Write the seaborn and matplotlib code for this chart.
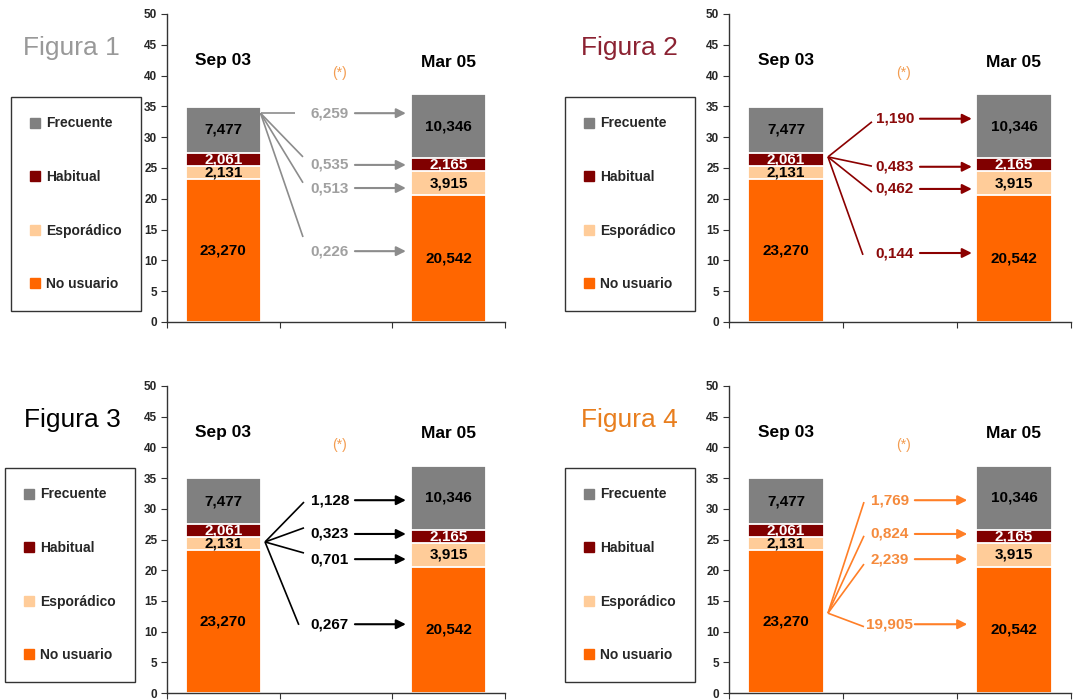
import numpy as np
import pandas as pd
import matplotlib
matplotlib.use("Agg")
import matplotlib.pyplot as plt
from matplotlib.lines import Line2D
import seaborn as sns

# ---------------- data ----------------
periodos = ["Sep 03", "Mar 05"]
tipos = ["No usuario", "Esporádico", "Habitual", "Frecuente"]
sep03 = [23.270, 2.131, 2.061, 7.477]
mar05 = [20.542, 3.915, 2.165, 10.346]

# flows from one Sep 03 group to each Mar 05 group (order: tipos)
flujo_fig1 = [0.226, 0.513, 0.535, 6.259]    # desde Frecuente
flujo_fig2 = [0.144, 0.462, 0.483, 1.190]    # desde Habitual
flujo_fig3 = [0.267, 0.701, 0.323, 1.128]    # desde Esporádico
flujo_fig4 = [19.905, 2.239, 0.824, 1.769]   # desde No usuario

titulos = ["Figura 1", "Figura 2", "Figura 3", "Figura 4"]
y_ticks = [0, 5, 10, 15, 20, 25, 30, 35, 40, 45, 50]

# ---------------- styles ----------------
sns.set_theme(style="white")
plt.rcParams["font.family"] = ["Liberation Sans", "DejaVu Sans"]

colores = {"No usuario": "#FF6600", "Esporádico": "#FFCC99",
           "Habitual": "#800000", "Frecuente": "#808080"}
color_texto = {"No usuario": "black", "Esporádico": "black",
               "Habitual": "white", "Frecuente": "black"}

orden = ["Sep 03", " ", "Mar 05"]

rows = []
for p, vals in zip(periodos, [sep03, mar05]):
    acc = 0.0
    for t, v in zip(tipos, vals):
        rows.append({"periodo": p, "tipo": t, "valor": v, "base": acc, "acumulado": acc + v})
        acc += v
df = pd.DataFrame(rows)

W, H = 1074, 700

paneles = [
    dict(titulo=titulos[0], tcol="#999999", lcol="#8C8C8C", txtcol="#A0A0A0",
         rect=(167, 14, 338, 308), leg=(11, 97), tit=(23, 48),
         flujo=flujo_fig1, origen=(0.33, 33.9),
         fin_x=[0.707, 0.707, 0.707, 0.636], fin_y=[13.8, 22.6, 26.8, 33.9],
         lab_y=[11.5, 21.75, 25.5, 33.9], lab_x=0.946, ax0=1.168, ax1=1.62),
    dict(titulo=titulos[1], tcol="#8B2232", lcol="#8B0000", txtcol="#8B0A0A",
         rect=(729, 14, 342, 308), leg=(565, 97), tit=(581, 48),
         flujo=flujo_fig2, origen=(0.368, 26.8),
         fin_x=[0.675, 0.754, 0.754, 0.754], fin_y=[10.9, 21.1, 25.3, 32.5],
         lab_y=[11.2, 21.6, 25.2, 33.0], lab_x=0.956, ax0=1.175, ax1=1.63),
    dict(titulo=titulos[2], tcol="black", lcol="black", txtcol="black",
         rect=(167, 386, 338, 307), leg=(5, 468), tit=(24, 420),
         flujo=flujo_fig3, origen=(0.37, 24.6),
         fin_x=[0.67, 0.716, 0.716, 0.716], fin_y=[11.1, 22.8, 26.9, 31.1],
         lab_y=[11.2, 21.8, 25.9, 31.4], lab_x=0.946, ax0=1.168, ax1=1.62),
    dict(titulo=titulos[3], tcol="#E87E1E", lcol="#FF7F27", txtcol="#F58A3C",
         rect=(729, 386, 342, 307), leg=(565, 468), tit=(581, 420),
         flujo=flujo_fig4, origen=(0.368, 13.0),
         fin_x=[0.684, 0.684, 0.684, 0.684], fin_y=[10.8, 21.0, 25.6, 31.1],
         lab_y=[11.2, 21.8, 25.9, 31.4], lab_x=0.91, ax0=1.13, ax1=1.59),
]

fig = plt.figure(figsize=(W / 100, H / 100), dpi=100)

def fmt(v):
    return f"{v:.3f}".replace(".", ",")

for P in paneles:
    x0, y0, w, h = P["rect"]
    ax = fig.add_axes([x0 / W, 1 - (y0 + h) / H, w / W, h / H])

    # stacked bars, drawn from top layer down
    for t in reversed(tipos):
        sub = df[df["tipo"] == t]
        sns.barplot(data=sub, x="periodo", y="acumulado", order=orden,
                    color=colores[t], width=0.66, edgecolor="white",
                    linewidth=1.3, errorbar=None, saturation=1, ax=ax)

    # value labels
    for _, r in df.iterrows():
        xi = orden.index(r["periodo"])
        ax.text(xi, r["base"] + r["valor"] / 2, fmt(r["valor"]), ha="center",
                va="center", fontsize=11, fontweight="bold",
                color=color_texto[r["tipo"]])

    # period labels
    ax.text(0, 42.5, periodos[0], ha="center", va="center", fontsize=12.5, fontweight="bold", color="black")
    ax.text(2, 42.2, periodos[1], ha="center", va="center", fontsize=12.5, fontweight="bold", color="black")
    ax.text(1.03, 40.4, "(*)", ha="center", va="center", fontsize=10, color="#F39C50")

    # flow lines, labels and arrows
    ox, oy = P["origen"]
    for i, t in enumerate(tipos):
        ax.plot([ox, P["fin_x"][i]], [oy, P["fin_y"][i]], color=P["lcol"], lw=1.2,
                solid_capstyle="butt")
        ax.text(P["lab_x"], P["lab_y"][i], fmt(P["flujo"][i]), ha="center", va="center",
                fontsize=11, fontweight="bold", color=P["txtcol"])
        ax.annotate("", xy=(P["ax1"], P["lab_y"][i]), xytext=(P["ax0"], P["lab_y"][i]),
                    arrowprops=dict(arrowstyle="-|>", color=P["lcol"], lw=1.5,
                                    mutation_scale=14, shrinkA=0, shrinkB=0))

    ax.set_xlim(-0.5, 2.5)
    ax.set_ylim(0, 50)
    ax.set_yticks(y_ticks)
    ax.set_xticks([-0.5, 0.5, 1.5, 2.5])
    ax.set_xticklabels([])
    ax.set_xlabel("")
    ax.set_ylabel("")
    for lab in ax.get_yticklabels():
        lab.set_fontweight("bold")
        lab.set_fontsize(8.5)
    ax.tick_params(axis="both", direction="out", length=4, width=0.8, color="#333333",
                   left=True, bottom=True, pad=3)
    for s in ["top", "right"]:
        ax.spines[s].set_visible(False)
    for s in ["left", "bottom"]:
        ax.spines[s].set_color("#333333")
        ax.spines[s].set_linewidth(1.0)
    ax.patch.set_alpha(0)

    # legend
    handles = [Line2D([0], [0], marker="s", linestyle="none", markersize=6.5,
                      markerfacecolor=colores[t], markeredgecolor=colores[t]) for t in reversed(tipos)]
    lx, ly = P["leg"]
    leg = ax.legend(handles, list(reversed(tipos)), loc="upper left",
                    bbox_to_anchor=(lx / W, 1 - ly / H), bbox_transform=fig.transFigure,
                    frameon=True, fancybox=False, edgecolor="black", fontsize=10,
                    labelspacing=2.85, borderpad=1.4, handlelength=0.6,
                    handletextpad=0.5, borderaxespad=0)
    leg.get_frame().set_linewidth(1.0)
    for txt in leg.get_texts():
        txt.set_fontweight("bold")

    tx, ty = P["tit"]
    fig.text(tx / W, 1 - ty / H, P["titulo"], ha="left", va="center", fontsize=19,
             color=P["tcol"])

fig.savefig("out.png", dpi=100)
